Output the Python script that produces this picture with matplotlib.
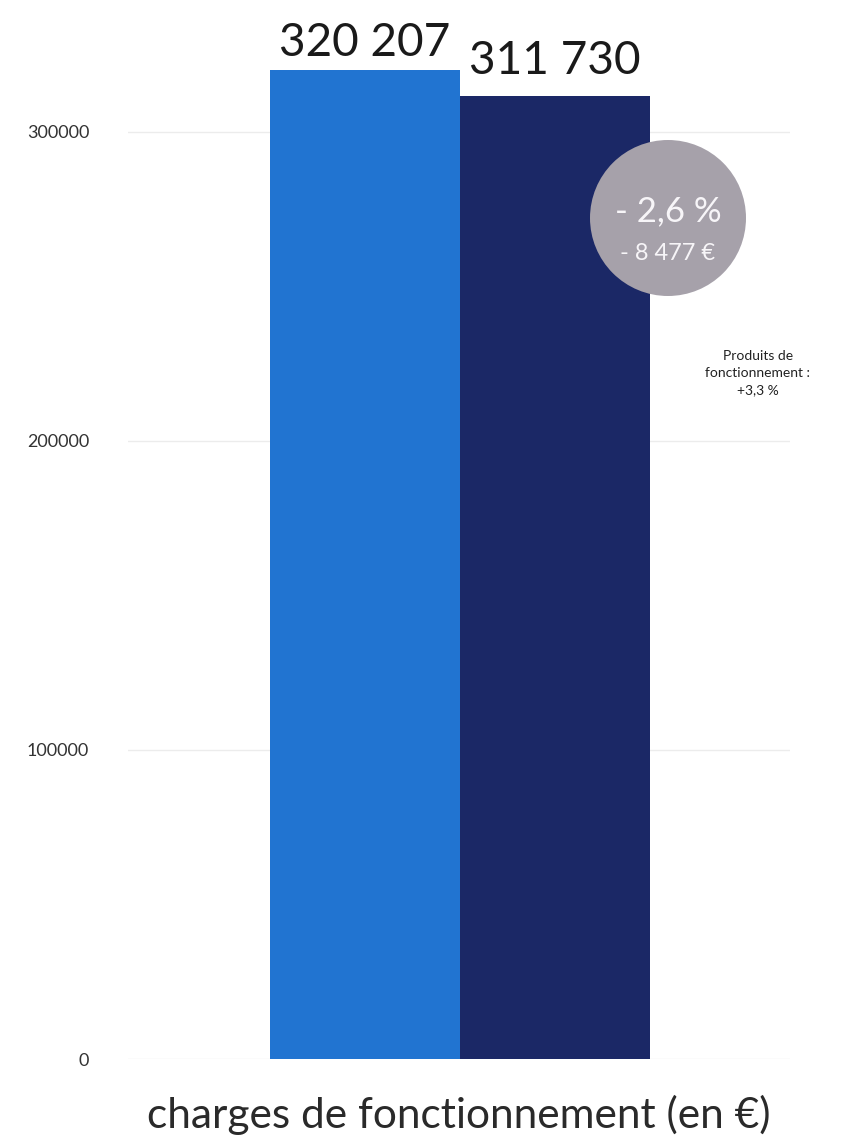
import matplotlib.pyplot as plt
from matplotlib.patches import Ellipse

plt.rcParams['font.family'] = ['Lato', 'DejaVu Sans']

# données
annees = ['2021', '2022']
charges = [320207, 311730]
etiquettes = ['320 207', '311 730']
couleurs = ['#2174d1', '#1b2866']
variation_pct = '- 2,6 %'
variation_eur = '- 8 477 €'
note_produits = 'Produits de\nfonctionnement :\n+3,3 %'

fig = plt.figure(figsize=(8.45, 11.44), dpi=100)
ax = fig.add_axes([0.1515, 0.0743, 0.7834, 0.9184])

x = list(range(len(charges)))
ax.bar(x, charges, width=1.0, align='edge', color=couleurs, zorder=2)

decalages = [4, 10]
for xi, val, lab, d in zip(x, charges, etiquettes, decalages):
    ax.annotate(lab, (xi + 0.5, val), xytext=(0, d), textcoords='offset points',
                ha='center', va='bottom', fontsize=33, color='#1a1a1a')

ax.set_xlim(-0.747, 2.737)
ax.set_ylim(0, 340000)
ax.set_yticks([0, 100000, 200000, 300000])
ax.set_yticklabels(['0', '100000', '200000', '300000'], fontsize=13, color='#333333')
ax.set_xticks([])
ax.tick_params(axis='y', length=0, pad=28)
ax.grid(axis='y', color='#ececec', linewidth=1, zorder=0)
for s in ax.spines.values():
    s.set_visible(False)

ax.set_xlabel('charges de fonctionnement (en €)', fontsize=30.5, color='#2a2a2a', labelpad=26)

# pastille de variation
w, h = 845, 1144
cx, cy, r = 668, 218, 78
pastille = Ellipse((cx / w, 1 - cy / h), 2 * r / w, 2 * r / h, transform=fig.transFigure,
                   facecolor='#a6a1aa', edgecolor='none', zorder=5)
fig.patches.append(pastille)
fig.text(cx / w, 1 - 211 / h, variation_pct, ha='center', va='center',
         fontsize=25, color='#f7f5f8', zorder=6)
fig.text(cx / w, 1 - 253 / h, variation_eur, ha='center', va='center',
         fontsize=17, color='#f7f5f8', zorder=6)

fig.text(758 / w, 1 - 373 / h, note_produits, ha='center', va='center',
         fontsize=10, color='#222222', linespacing=1.5)

fig.savefig('out.png', dpi=100)
